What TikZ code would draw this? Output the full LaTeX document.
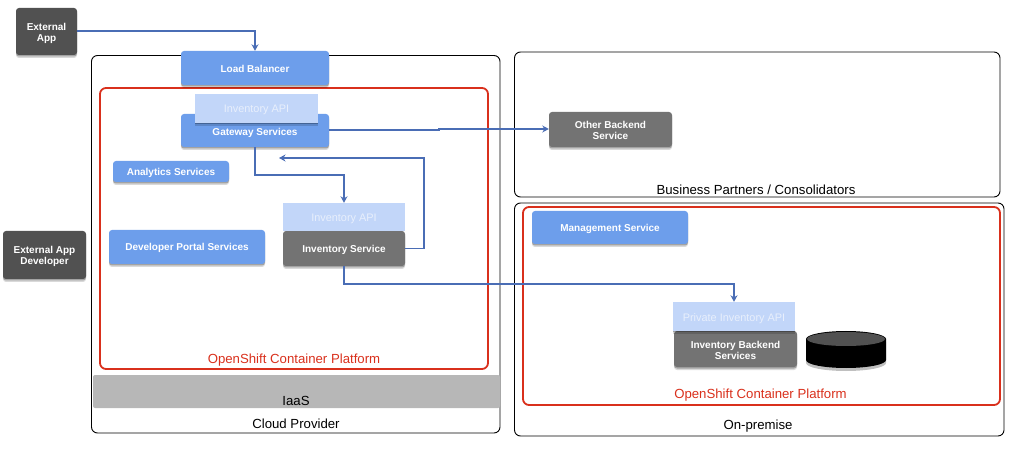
\documentclass[tikz,border=0pt]{standalone}
\usepackage{fontspec}
\setmainfont{Liberation Sans}
\usetikzlibrary{arrows.meta,shadows,calc}
\definecolor{bluebox}{HTML}{6D9EEB}
\definecolor{lightbox}{HTML}{C2D6F9}
\definecolor{darkbox}{HTML}{515151}
\definecolor{greybox}{HTML}{737373}
\definecolor{iaasgrey}{HTML}{B7B7B7}
\definecolor{redline}{HTML}{D9301C}
\definecolor{wire}{HTML}{4A6DB5}
\definecolor{apitext}{HTML}{E8EFFC}
\newcommand{\dn}[1]{\raisebox{-1pt}[\height][\depth]{#1}}
\newcommand{\dnn}[1]{\raisebox{-2pt}[\height][\depth]{#1}}
\tikzset{
  softshadow/.style={general shadow={shadow xshift=0pt,shadow yshift=-3pt,opacity=.15,fill=black},
                     general shadow={shadow xshift=0pt,shadow yshift=-1.5pt,opacity=.25,fill=black}},
  svc/.style={softshadow,rounded corners=3pt,inner sep=0pt,align=center,text=white,
              font=\fontsize{10}{11}\selectfont\bfseries},
  bluesvc/.style={svc,fill=bluebox},
  darksvc/.style={svc,fill=darkbox},
  greysvc/.style={svc,fill=greybox},
  apibox/.style={fill=lightbox,inner sep=0pt,align=center,text=apitext,
              font=\fontsize{10.9}{13}\selectfont},
  region/.style={draw=black,line width=.9pt,rounded corners=6pt,inner sep=0pt},
  platform/.style={draw=redline,line width=1.8pt,rounded corners=6pt,inner sep=0pt},
  caption/.style={inner sep=0pt,text=black,font=\fontsize{13.2}{15}\selectfont},
  redcaption/.style={inner sep=0pt,text=redline,font=\fontsize{13.2}{15}\selectfont},
  link/.style={draw=wire,line width=1.9pt,-{Stealth[length=6.5pt,width=7pt]}},
  sz/.style 2 args={minimum width=#1pt,minimum height=#2pt},
}
\begin{document}
\begin{tikzpicture}[x=1pt,y=-1pt]
\useasboundingbox (0,0) rectangle (1031,454);
% regions
\node[region,sz={408.5}{377.5}] (cloud) at (295.75,244.25) {};
\node[region,sz={485.5}{145}] (partners) at (757.25,124.5) {};
\node[region,sz={489.5}{233}] (onprem) at (759.25,319.5) {};
\node[platform,sz={388}{281}] (ocpA) at (294,228.5) {};
\node[platform,sz={477}{198}] (ocpB) at (761.5,306) {};
\node[rounded corners=2pt,fill=iaasgrey,inner sep=0pt,sz={407}{33}] (iaasbox) at (296.5,391.5) {};
% services
\node[darksvc,sz={61}{47}] (extapp) at (46.5,31.5) {\dnn{External}\\\dnn{App}};
\node[darksvc,sz={83}{48}] (extdev) at (44.5,255) {\dn{External App}\\\dn{Developer}};
\node[bluesvc,sz={148}{34}] (lb) at (255,68) {\dn{Load Balancer}};
\node[bluesvc,sz={148}{33}] (gw) at (255,130.5) {\dnn{Gateway Services}};
\node[apibox,softshadow,sz={123}{29}] (gwapi) at (256.5,108.5) {\dn{Inventory API}};
\node[bluesvc,sz={116}{21}] (analytics) at (171,171.5) {\dn{Analytics Services}};
\node[bluesvc,sz={156}{34}] (portal) at (187,247) {\dn{Developer Portal Services}};
\node[greysvc,sz={122}{35}] (invsvc) at (344,248.5) {\dn{Inventory Service}};
\node[apibox,sz={122}{28}] (invapi) at (344,217) {\dnn{Inventory API}};
\node[greysvc,sz={123}{35}] (other) at (610.5,129.5) {\dn{Other Backend}\\\dn{Service}};
\node[bluesvc,sz={156}{33}] (mgmt) at (610,227.5) {\dn{Management Service}};
\node[greysvc,sz={123}{36}] (backend) at (735.5,349) {\dn{Inventory Backend}\\\dn{Services}};
\node[apibox,softshadow,sz={122}{29}] (privapi) at (734,316.5) {\dnn{Private Inventory API}};
% database
\fill[black,opacity=.25] (806,342) -- (806,363) arc[start angle=180,end angle=0,x radius=40,y radius=8] -- (886,342) -- cycle;
\fill[black] (806,339) -- (806,360) arc[start angle=180,end angle=0,x radius=40,y radius=8] -- (886,339) -- cycle;
\fill[black] (846,339) ellipse[x radius=40,y radius=8];
\fill[darkbox] (846,339) ellipse[x radius=39,y radius=7];
% captions
\node[caption] (iaaslabel) at (296,401) {IaaS};
\node[caption] (cloudlabel) at (296,424) {Cloud Provider};
\node[caption] (partnerlabel) at (756,190) {Business Partners / Consolidators};
\node[caption] (onpremlabel) at (758,426.5) {On-premise};
\node[redcaption] (ocpAlabel) at (294,360) {OpenShift Container Platform};
\node[redcaption] (ocpBlabel) at (760.5,395) {OpenShift Container Platform};
% connectors
\coordinate (retend) at (279,158);
\coordinate (retA) at (424,248.5);
\coordinate (retB) at (424,158);
\coordinate (kinkA) at (439,130);
\coordinate (kinkB) at (439,129);
\coordinate (gwdown) at (255,175);
\coordinate (invdown) at (344,284);
\draw[link] (extapp.east |- 0,31) -| (lb.north);
\draw[link] (gw.east |- kinkA) -- (kinkA) -- (kinkB) -- (other.west |- kinkB);
\draw[link] (gw.south) -- (gwdown) -| (invapi.north);
\draw[link] (invsvc.east) -- (retA) -- (retB) -- (retend);
\draw[link] (invsvc.south) -- (invdown) -| (privapi.north);
\end{tikzpicture}
\end{document}
